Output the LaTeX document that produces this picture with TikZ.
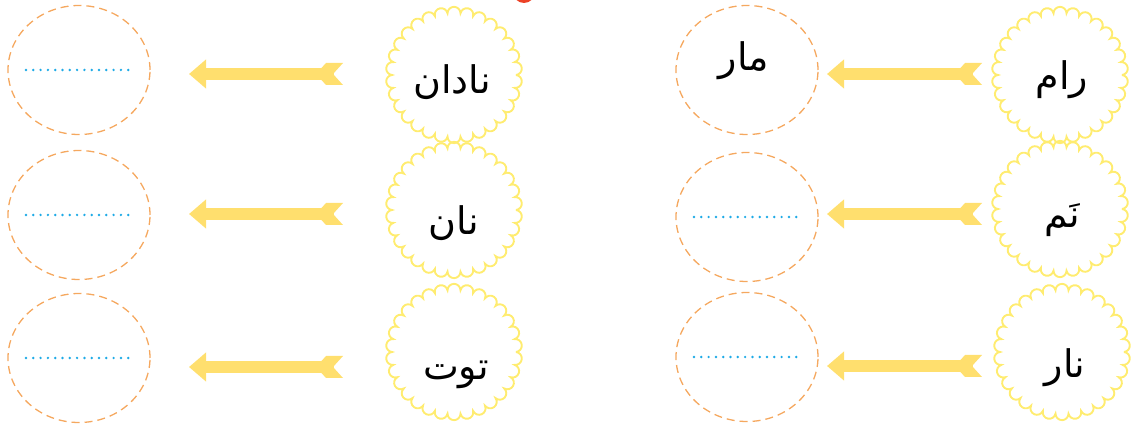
\documentclass[tikz,border=0pt]{standalone}
\usepackage{fontspec}
\newfontfamily\arabicfont[Script=Arabic]{DejaVu Sans}
\TeXXeTstate=1
\usetikzlibrary{arrows.meta,shapes.geometric}
\definecolor{scallopyellow}{RGB}{255,236,112}
\definecolor{arrowyellow}{RGB}{255,223,110}
\definecolor{dashorange}{RGB}{245,168,95}
\definecolor{dotblue}{RGB}{30,170,230}
\definecolor{dotred}{RGB}{236,66,38}
\tikzset{
  word/.style={font=\arabicfont\fontsize{38}{44}\selectfont, inner sep=0pt},
  blank/.style={ellipse, draw=dashorange, line width=1.3pt, dash pattern=on 8pt off 5pt,
    minimum width=142pt, minimum height=129pt, inner sep=0pt},
  scallop/.style={draw=scallopyellow, line width=1.9pt},
  dotline/.style={draw=dotblue, line width=2.7pt, line cap=round, dash pattern=on 0pt off 7.3pt},
  fatarrow/.style={draw=arrowyellow, line width=12pt, -{Triangle[length=17pt,width=28pt]}}
}

\begin{document}
\begin{tikzpicture}[x=1pt,y=1pt]
	\useasboundingbox (0,0) rectangle (1136,426);
	\fill[dotred] (524,434) circle (11);
	\foreach \n/\x/\y in {d1/747/356,d2/747/209,d3/747/69,d4/79/356,d5/79/211,d6/79/68}
		\node[blank] (\n) at (\x,\y) {};
	\foreach \x/\y in {1060/351,1060/217,1062/74,454/351,454/216,454/74}
		\draw[scallop] (\x,\y) ++(0:62) foreach \i in {0,...,29} {arc[start angle=\i*12-84,end angle=\i*12+96,radius=6.48]};
	\foreach \n/\x/\y/\w in {s1/1062/346/رام,s2/1062/206/نَم,s3/1065/58/نار,s4/452/344/نادان,s5/454/203/نان,s6/456/51/توت}
		\node[word] (\n) at (\x,\y) {\beginR\w\endR};
	\node[word] (m1) at ([xshift=-3pt,yshift=9pt]d1.center) {\beginR مار\endR};
	\foreach \d in {d2,d3,d4,d5,d6}
		\draw[dotline] ([xshift=-53pt]\d.center) -- ([xshift=55pt]\d.center);
	\foreach \s/\d/\o/\g/\h in {s1/d1/6/80/80,s2/d2/6/80/80,s3/d3/2/83/80,s4/d4/8/109/110,s5/d5/9/111/110,s6/d6/8/113/110}{
		\coordinate (t) at ([xshift=-\g pt,yshift=\o pt]\s.center);
		\draw[fatarrow,shorten <=9pt,shorten >=\h pt] (t) -- (t -| \d);
		\fill[arrowyellow] (t) ++(0,11) -- ++(-10,-11) -- ++(10,-11) -- ++(-17,0) -- ++(-10,11) -- ++(10,11) -- cycle;
	}
\end{tikzpicture}
\end{document}
